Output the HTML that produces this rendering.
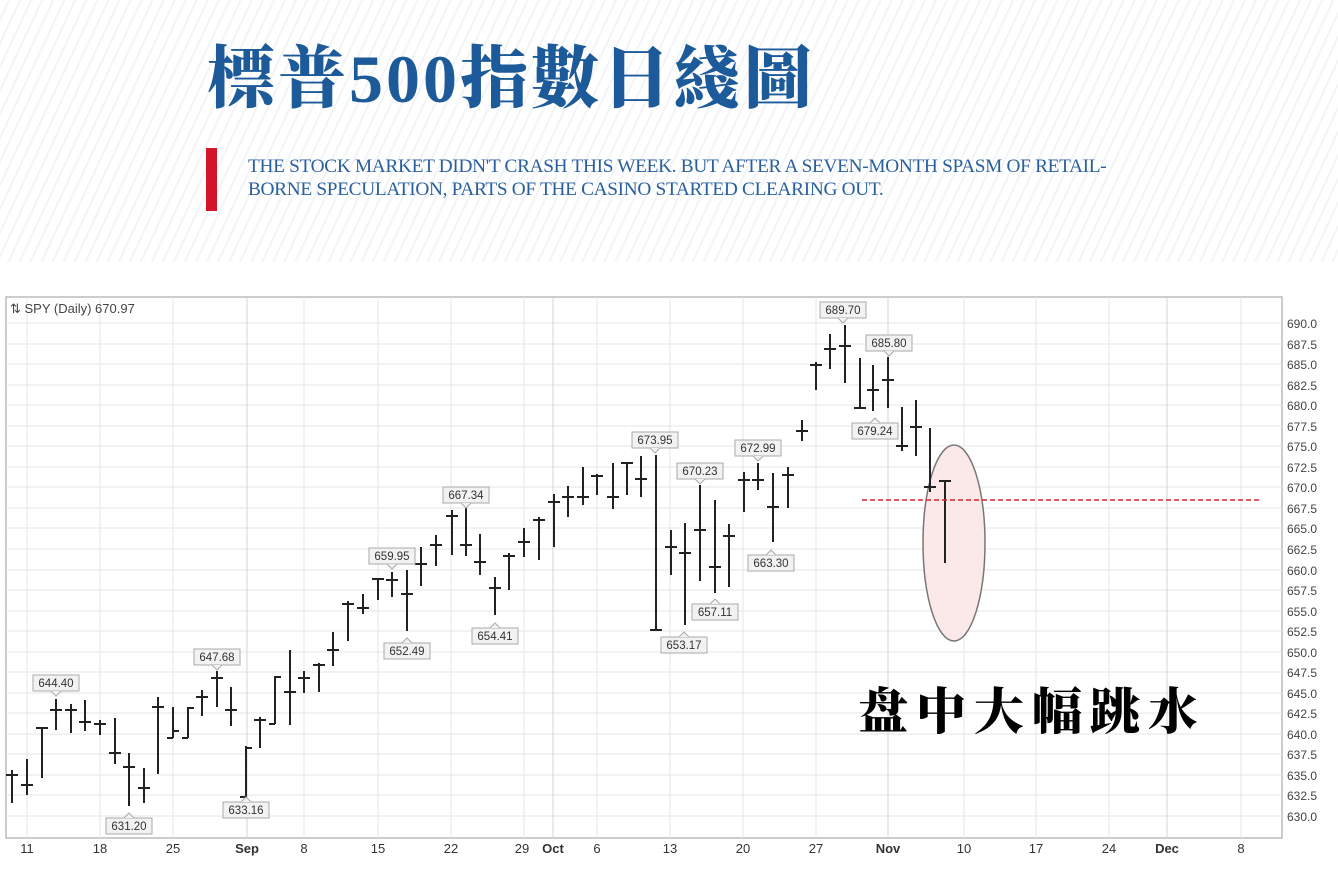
<!DOCTYPE html>
<html><head><meta charset="utf-8"><style>
html,body{margin:0;padding:0;width:1338px;height:890px;overflow:hidden;background:#fff}
.top{position:absolute;left:0;top:0;width:1338px;height:262px;background:repeating-linear-gradient(115deg,#ffffff 0px,#ffffff 7px,#eef0f3 8px,#ffffff 10px)}
.title{position:absolute;left:207px;top:34px;font-family:"Liberation Serif","Noto Serif CJK TC","Noto Serif CJK SC",serif;font-weight:900;font-size:68px;line-height:90px;color:#1d5a99;letter-spacing:3px;white-space:nowrap}
.bar{position:absolute;left:206px;top:148px;width:11px;height:63px;background:#d3142b}
.sub{position:absolute;left:248px;top:155px;font-family:"Liberation Serif",serif;font-size:19px;line-height:23px;color:#2a5f9e;white-space:nowrap;transform:scaleX(1.015);transform-origin:0 0;letter-spacing:-0.3px}
svg{position:absolute;left:0;top:0}
</style></head><body>
<div class="top"></div>
<div class="title">標普500指數日綫圖</div>
<div class="bar"></div>
<div class="sub">THE STOCK MARKET DIDN'T CRASH THIS WEEK. BUT AFTER A SEVEN-MONTH SPASM OF RETAIL-<br>BORNE SPECULATION, PARTS OF THE CASINO STARTED CLEARING OUT.</div>
<svg width="1338" height="890" xmlns="http://www.w3.org/2000/svg" font-family="Liberation Sans, sans-serif">
<rect x="6" y="297" width="1276" height="541" fill="#fff" stroke="#bbb" stroke-width="1.5"/>
<g stroke="#e6e6e6" stroke-width="1">
<line x1="6" x2="1282" y1="323" y2="323"/><line x1="6" x2="1282" y1="344" y2="344"/><line x1="6" x2="1282" y1="364" y2="364"/><line x1="6" x2="1282" y1="385" y2="385"/><line x1="6" x2="1282" y1="405" y2="405"/><line x1="6" x2="1282" y1="426" y2="426"/><line x1="6" x2="1282" y1="446" y2="446"/><line x1="6" x2="1282" y1="467" y2="467"/><line x1="6" x2="1282" y1="487" y2="487"/><line x1="6" x2="1282" y1="508" y2="508"/><line x1="6" x2="1282" y1="528" y2="528"/><line x1="6" x2="1282" y1="549" y2="549"/><line x1="6" x2="1282" y1="570" y2="570"/><line x1="6" x2="1282" y1="590" y2="590"/><line x1="6" x2="1282" y1="611" y2="611"/><line x1="6" x2="1282" y1="631" y2="631"/><line x1="6" x2="1282" y1="652" y2="652"/><line x1="6" x2="1282" y1="672" y2="672"/><line x1="6" x2="1282" y1="693" y2="693"/><line x1="6" x2="1282" y1="713" y2="713"/><line x1="6" x2="1282" y1="734" y2="734"/><line x1="6" x2="1282" y1="754" y2="754"/><line x1="6" x2="1282" y1="775" y2="775"/><line x1="6" x2="1282" y1="795" y2="795"/><line x1="6" x2="1282" y1="816" y2="816"/>
<line y1="297" y2="838" x1="27" x2="27"/><line y1="297" y2="838" x1="100" x2="100"/><line y1="297" y2="838" x1="173" x2="173"/><line y1="297" y2="838" x1="247" x2="247" stroke="#d4d4d4"/><line y1="297" y2="838" x1="304" x2="304"/><line y1="297" y2="838" x1="378" x2="378"/><line y1="297" y2="838" x1="451" x2="451"/><line y1="297" y2="838" x1="524" x2="524"/><line y1="297" y2="838" x1="553" x2="553" stroke="#d4d4d4"/><line y1="297" y2="838" x1="597" x2="597"/><line y1="297" y2="838" x1="670" x2="670"/><line y1="297" y2="838" x1="743" x2="743"/><line y1="297" y2="838" x1="816" x2="816"/><line y1="297" y2="838" x1="888" x2="888" stroke="#d4d4d4"/><line y1="297" y2="838" x1="964" x2="964"/><line y1="297" y2="838" x1="1036" x2="1036"/><line y1="297" y2="838" x1="1109" x2="1109"/><line y1="297" y2="838" x1="1167" x2="1167" stroke="#d4d4d4"/><line y1="297" y2="838" x1="1241" x2="1241"/>
</g>
<text x="10" y="313" font-size="13" fill="#444">⇅ SPY (Daily) 670.97</text>
<g font-size="12" fill="#444">
<text x="1287" y="328">690.0</text><text x="1287" y="349">687.5</text><text x="1287" y="369">685.0</text><text x="1287" y="390">682.5</text><text x="1287" y="410">680.0</text><text x="1287" y="431">677.5</text><text x="1287" y="451">675.0</text><text x="1287" y="472">672.5</text><text x="1287" y="492">670.0</text><text x="1287" y="513">667.5</text><text x="1287" y="533">665.0</text><text x="1287" y="554">662.5</text><text x="1287" y="575">660.0</text><text x="1287" y="595">657.5</text><text x="1287" y="616">655.0</text><text x="1287" y="636">652.5</text><text x="1287" y="657">650.0</text><text x="1287" y="677">647.5</text><text x="1287" y="698">645.0</text><text x="1287" y="718">642.5</text><text x="1287" y="739">640.0</text><text x="1287" y="759">637.5</text><text x="1287" y="780">635.0</text><text x="1287" y="800">632.5</text><text x="1287" y="821">630.0</text>
</g>
<g font-size="13" fill="#333" text-anchor="middle">
<text x="27" y="853">11</text><text x="100" y="853">18</text><text x="173" y="853">25</text><text x="247" y="853" font-weight="bold">Sep</text><text x="304" y="853">8</text><text x="378" y="853">15</text><text x="451" y="853">22</text><text x="522" y="853">29</text><text x="553" y="853" font-weight="bold">Oct</text><text x="597" y="853">6</text><text x="670" y="853">13</text><text x="743" y="853">20</text><text x="816" y="853">27</text><text x="888" y="853" font-weight="bold">Nov</text><text x="964" y="853">10</text><text x="1036" y="853">17</text><text x="1109" y="853">24</text><text x="1167" y="853" font-weight="bold">Dec</text><text x="1241" y="853">8</text>
</g>
<ellipse cx="954" cy="543" rx="31" ry="98" fill="#fbe9ea" stroke="#777" stroke-width="1.5"/>
<g stroke="#222" stroke-width="2" fill="none" id="bars"></g>
<line x1="862" x2="1262" y1="500" y2="500" stroke="#d8232f" stroke-width="1.6" stroke-dasharray="5,3"/>
<g id="lbl" font-size="11.5" fill="#333" text-anchor="middle"></g>
<text x="858" y="729" font-family="Liberation Serif, Noto Serif CJK SC, serif" font-weight="900" font-size="50" letter-spacing="8" fill="#000">盘中大幅跳水</text>
</svg>
<script>
var B=[[12,770,803,775,775],[27,759,795,785,785],[42,728,778,728,728],[56,699,730,710,710],[71,704,733,710,710],[85,700,731,722,722],[100,720,735,724,724],[115,718,764,753,753],[129,753,806,767,767],[144,768,803,788,788],[158,697,774,707,707],[173,707,738,738,731],[188,707,738,738,708],[202,690,716,697,697],[217,671,707,678,678],[231,687,726,710,710],[246,746,797,797,748],[260,717,748,720,720],[275,676,724,724,677],[290,650,725,692,692],[304,671,693,678,678],[319,663,692,665,665],[333,632,666,650,650],[348,601,641,604,604],[363,594,614,608,608],[378,578,600,579,579],[392,572,597,580,580],[407,570,631,594,594],[421,547,586,564,564],[436,535,566,545,545],[452,510,555,516,516],[466,508,556,545,545],[480,534,575,562,562],[495,577,615,588,588],[509,553,590,556,556],[524,528,557,542,542],[539,517,560,520,520],[554,494,547,502,502],[568,486,517,497,497],[583,467,505,497,497],[597,474,495,476,476],[613,463,509,497,497],[627,462,495,463,463],[641,456,497,479,479],[656,455,630,630,630],[671,530,575,547,547],[685,523,625,553,553],[700,485,581,530,530],[715,500,593,567,567],[729,524,587,536,536],[744,472,512,480,480],[758,463,490,480,480],[773,473,542,507,507],[788,467,508,475,475],[802,420,441,431,431],[816,362,390,365,365],[830,334,369,349,349],[845,325,383,346,346],[860,358,409,408,408],[873,365,411,390,390],[888,357,408,380,380],[902,407,451,446,446],[916,400,456,427,427],[930,428,492,487,487],[945,481,563,481,481]];
var g=document.getElementById('bars'),s='';
B.forEach(function(b){s+='<line x1="'+b[0]+'" x2="'+b[0]+'" y1="'+b[1]+'" y2="'+b[2]+'"/><line x1="'+(b[0]-6)+'" x2="'+b[0]+'" y1="'+b[3]+'" y2="'+b[3]+'"/><line x1="'+b[0]+'" x2="'+(b[0]+6)+'" y1="'+b[4]+'" y2="'+b[4]+'"/>';});
g.innerHTML=s;
var L=[['644.40',56,683,1],['631.20',129,826,0],['647.68',217,657,1],['633.16',246,810,0],['652.49',407,651,0],['659.95',392,556,1],['667.34',466,495,1],['654.41',495,636,0],['673.95',655,440,1],['653.17',684,645,0],['670.23',700,471,1],['657.11',715,612,0],['672.99',758,448,1],['663.30',771,563,0],['689.70',843,310,1],['685.80',889,343,1],['679.24',875,431,0]];
var t='';
L.forEach(function(l){var x=l[1],y=l[2];t+='<rect x="'+(x-23)+'" y="'+(y-8)+'" width="46" height="16" fill="#f2f2f2" stroke="#aaa"/>';
if(l[3])t+='<path d="M'+(x-5)+' '+(y+8)+' L'+x+' '+(y+13)+' L'+(x+5)+' '+(y+8)+'" fill="#f2f2f2" stroke="#aaa"/>';else t+='<path d="M'+(x-5)+' '+(y-8)+' L'+x+' '+(y-13)+' L'+(x+5)+' '+(y-8)+'" fill="#f2f2f2" stroke="#aaa"/>';
t+='<text x="'+x+'" y="'+(y+4)+'">'+l[0]+'</text>';});
document.getElementById('lbl').innerHTML=t;
</script>
</body></html>
